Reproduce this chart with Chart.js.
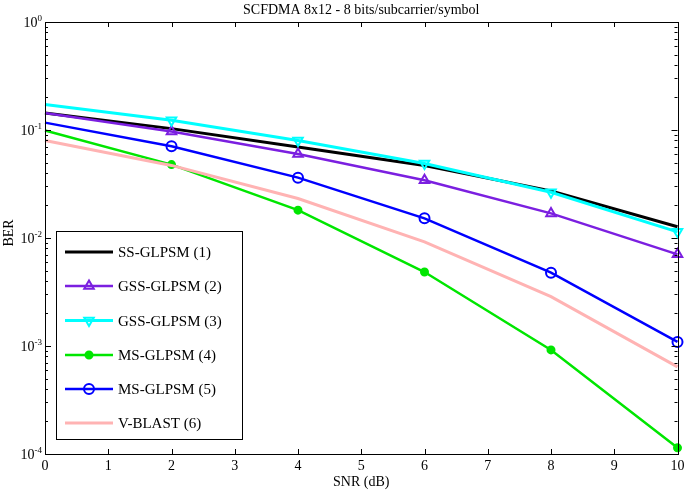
<!DOCTYPE html>
<html>
<head>
<meta charset="utf-8">
<title>SCFDMA 8x12 BER</title>
<script src="https://cdn.jsdelivr.net/npm/chart.js@4.4.1/dist/chart.umd.min.js"></script>
<style>
    html, body { margin: 0; padding: 0; background: #fff; }
    canvas { display: block; }
</style>
</head>
<body>
<canvas id="berChart" width="685" height="492"></canvas>
<script>
// values
const snr = [0, 2, 4, 6, 8, 10];
const ssGlpsm1 = [0.144, 0.103, 0.0695, 0.047, 0.0273, 0.0127];
const gssGlpsm2 = [0.144, 0.097, 0.060, 0.0343, 0.0169, 0.00706];
const gssGlpsm3 = [0.172, 0.123, 0.080, 0.049, 0.0265, 0.0114];
const msGlpsm4 = [0.099, 0.0478, 0.0181, 0.00484, 0.00092, 0.000114];
const msGlpsm5 = [0.117, 0.0706, 0.0362, 0.0152, 0.00477, 0.00109];
const vBlast6 = [0.080, 0.047, 0.0232, 0.00922, 0.00286, 0.00064];

const seriesLabels = ['SS-GLPSM (1)', 'GSS-GLPSM (2)', 'GSS-GLPSM (3)', 'MS-GLPSM (4)', 'MS-GLPSM (5)', 'V-BLAST (6)'];
const xTicks = [0, 1, 2, 3, 4, 5, 6, 7, 8, 9, 10];
const yDecades = [-4, -3, -2, -1, 0];

const FONT = '"Liberation Serif", "Times New Roman", serif';

function toPoints(values) {
    return snr.map((x, i) => ({ x: x, y: values[i] }));
}

// markers are shown on every point except the first (x = 0)
function markerSizes(r) {
    return snr.map((x, i) => (i === 0 ? 0 : r));
}

function makeSet(label, values, color, extra) {
    const ds = Object.assign({
        label: label,
        data: toPoints(values),
        borderColor: color,
        backgroundColor: color,
        borderWidth: 2.5,
        markerRadius: 0,
        pointBorderColor: color,
        pointBackgroundColor: 'rgba(0,0,0,0)',
        pointBorderWidth: 2,
        tension: 0,
        clip: false
    }, extra);
    ds.pointRadius = markerSizes(ds.markerRadius);
    return ds;
}

const datasets = [
    makeSet(seriesLabels[0], ssGlpsm1, '#000000', { borderWidth: 3, order: 5 }),
    makeSet(seriesLabels[1], gssGlpsm2, '#7B1FE0', { pointStyle: 'triangle', markerRadius: 5.5, order: 4 }),
    makeSet(seriesLabels[2], gssGlpsm3, '#00FFFF', { pointStyle: 'triangle', pointRotation: 180, markerRadius: 5.5, borderWidth: 3, order: 3 }),
    makeSet(seriesLabels[3], msGlpsm4, '#00E600', { pointStyle: 'circle', markerRadius: 3.5, pointBackgroundColor: '#00E600', order: 2 }),
    makeSet(seriesLabels[4], msGlpsm5, '#0000FF', { pointStyle: 'circle', markerRadius: 5, order: 1 }),
    makeSet(seriesLabels[5], vBlast6, '#FFB3B3', { borderWidth: 3, order: 0 })
];

function drawMarker(ctx, ds, x, y) {
    const r = ds.markerRadius;
    if (!r) return;
    ctx.save();
    ctx.lineWidth = ds.pointBorderWidth;
    ctx.strokeStyle = ds.pointBorderColor;
    ctx.fillStyle = ds.pointBackgroundColor;
    ctx.beginPath();
    if (ds.pointStyle === 'triangle') {
        let rad = (ds.pointRotation || 0) * Math.PI / 180;
        for (let k = 0; k < 3; k++) {
            const px = x + Math.sin(rad) * r;
            const py = y - Math.cos(rad) * r;
            if (k === 0) ctx.moveTo(px, py); else ctx.lineTo(px, py);
            rad += 2 * Math.PI / 3;
        }
        ctx.closePath();
    } else {
        ctx.arc(x, y, r, 0, Math.PI * 2);
    }
    ctx.fill();
    ctx.stroke();
    ctx.restore();
}

const matlabFrame = {
    id: 'matlabFrame',
    afterDraw(chart) {
        const ctx = chart.ctx;
        const area = chart.chartArea;
        const xs = chart.scales.x;
        const ys = chart.scales.y;

        ctx.save();
        ctx.strokeStyle = '#000';
        ctx.fillStyle = '#000';
        ctx.lineWidth = 1;

        // x ticks, inside, bottom and top
        ctx.beginPath();
        xTicks.forEach(v => {
            const px = Math.round(xs.getPixelForValue(v)) + 0.5;
            ctx.moveTo(px, area.bottom); ctx.lineTo(px, area.bottom - 5);
            ctx.moveTo(px, area.top); ctx.lineTo(px, area.top + 5);
        });
        // y ticks, majors and minors, left and right
        yDecades.forEach(d => {
            for (let m = 1; m <= 9; m++) {
                const val = m * Math.pow(10, d);
                if (val > 1) break;
                const len = m === 1 ? 6 : 3;
                const py = Math.round(ys.getPixelForValue(val)) + 0.5;
                ctx.moveTo(area.left, py); ctx.lineTo(area.left + len, py);
                ctx.moveTo(area.right, py); ctx.lineTo(area.right - len, py);
            }
        });
        ctx.stroke();

        // box
        ctx.strokeRect(Math.round(area.left) + 0.5, Math.round(area.top) + 0.5,
            Math.round(area.right - area.left), Math.round(area.bottom - area.top));

        // x tick labels
        ctx.font = '14px ' + FONT;
        ctx.textAlign = 'center';
        ctx.textBaseline = 'alphabetic';
        xTicks.forEach(v => {
            ctx.fillText(String(v), xs.getPixelForValue(v), area.bottom + 16);
        });

        // y tick labels 10^n
        yDecades.forEach(d => {
            const py = ys.getPixelForValue(Math.pow(10, d));
            const sup = String(d);
            ctx.font = '9px ' + FONT;
            const wSup = ctx.measureText(sup).width;
            ctx.font = '14px ' + FONT;
            const wBase = ctx.measureText('10').width;
            const right = area.left - 3;
            ctx.textAlign = 'left';
            ctx.fillText('10', right - wSup - wBase, py + 5);
            ctx.font = '9px ' + FONT;
            ctx.fillText(sup, right - wSup, py - 1);
        });

        // title and axis titles
        ctx.textAlign = 'center';
        ctx.font = '14px ' + FONT;
        ctx.fillText('SCFDMA 8x12 - 8 bits/subcarrier/symbol', (area.left + area.right) / 2, 14);
        ctx.fillText('SNR (dB)', (area.left + area.right) / 2, 486);
        ctx.save();
        ctx.translate(13, 233);
        ctx.rotate(-Math.PI / 2);
        ctx.fillText('BER', 0, 0);
        ctx.restore();

        // legend box
        const lx = 56, ly = 231, lw = 186, lh = 208;
        ctx.fillStyle = '#fff';
        ctx.fillRect(lx, ly, lw, lh);
        ctx.strokeStyle = '#000';
        ctx.lineWidth = 1;
        ctx.strokeRect(lx + 0.5, ly + 0.5, lw, lh);
        const rowY = [252, 286, 320.5, 355, 389, 423];
        chart.data.datasets.forEach((ds, i) => {
            const y = rowY[i];
            ctx.save();
            ctx.strokeStyle = ds.borderColor;
            ctx.lineWidth = ds.borderWidth;
            ctx.beginPath();
            ctx.moveTo(65, y); ctx.lineTo(113, y);
            ctx.stroke();
            ctx.restore();
            drawMarker(ctx, ds, 89, y);
            ctx.fillStyle = '#000';
            ctx.font = '15px ' + FONT;
            ctx.textAlign = 'left';
            ctx.fillText(ds.label, 118, y + 5);
        });

        ctx.restore();
    }
};

new Chart(document.getElementById('berChart').getContext('2d'), {
    type: 'line',
    data: { datasets: datasets },
    options: {
        responsive: false,
        animation: false,
        layout: { padding: { left: 45, right: 7, top: 22, bottom: 38 } },
        plugins: {
            legend: { display: false },
            title: { display: false },
            tooltip: { enabled: false }
        },
        scales: {
            x: { type: 'linear', min: 0, max: 10, display: false },
            y: { type: 'logarithmic', min: 1e-4, max: 1, display: false }
        }
    },
    plugins: [matlabFrame]
});
</script>
</body>
</html>
